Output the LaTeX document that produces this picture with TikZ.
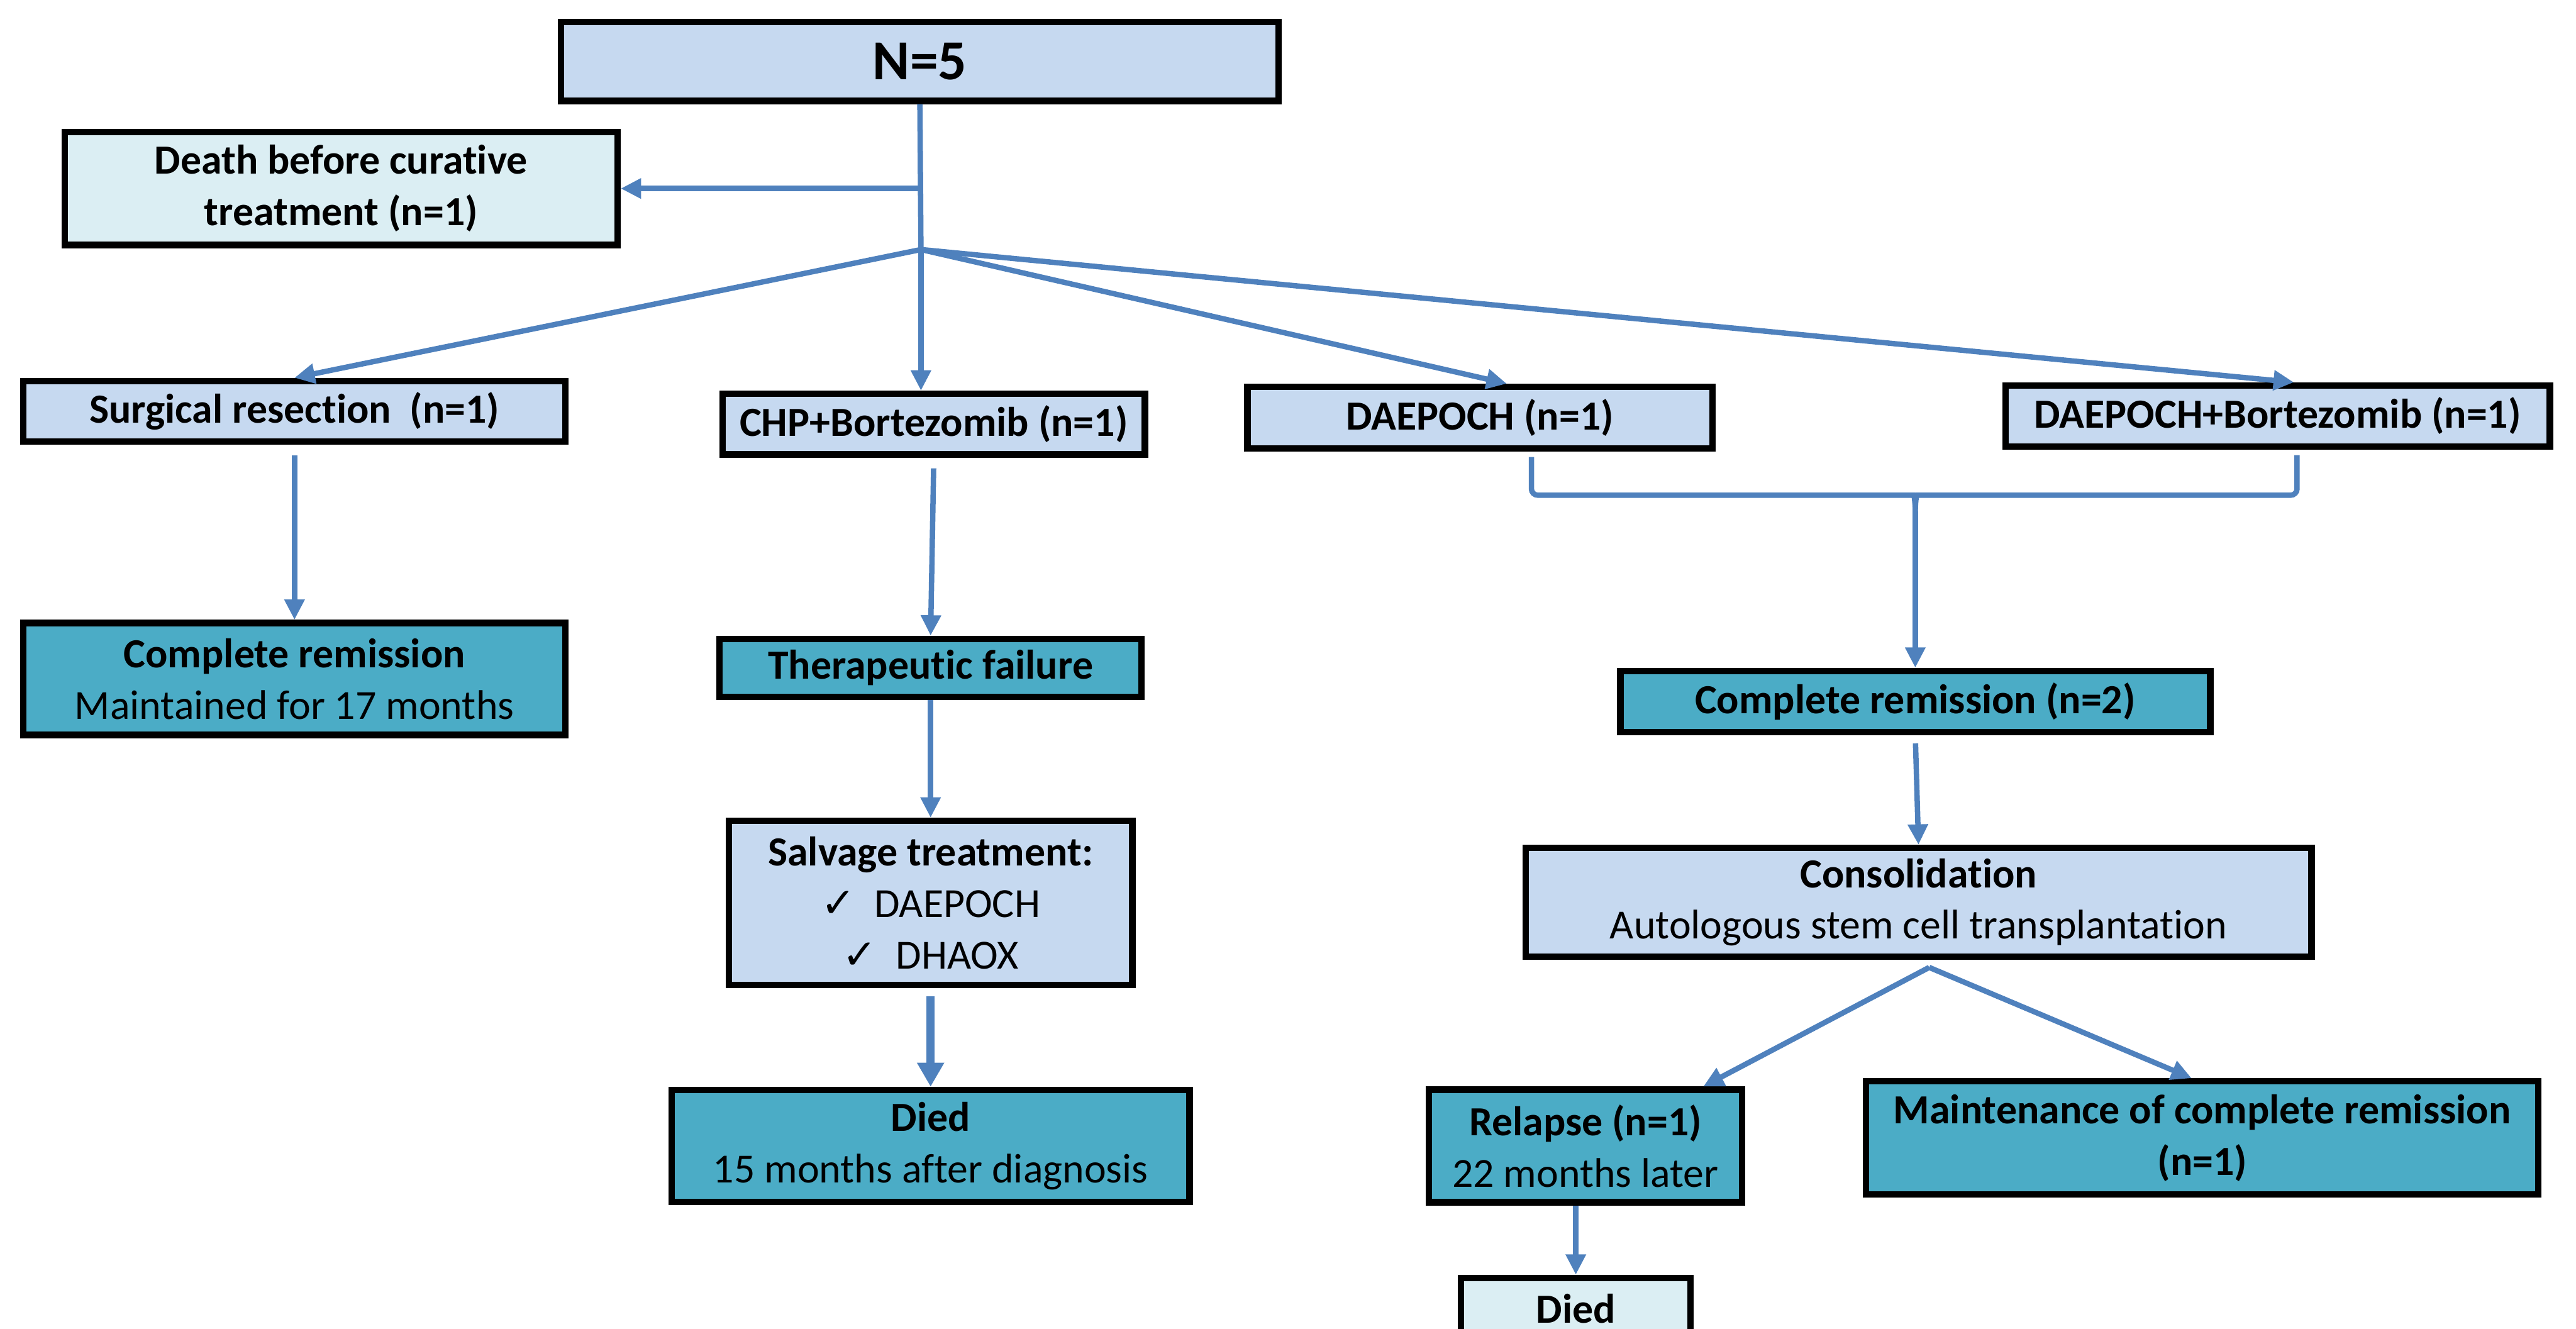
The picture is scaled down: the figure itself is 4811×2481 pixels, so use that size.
\documentclass[tikz,border=0pt]{standalone}
\usepackage{fontspec}
\setmainfont{Carlito}[Ligatures=NoCommon]
\newfontfamily\checkfont{DejaVu Sans}
\usepackage{tikz}
\usetikzlibrary{arrows.meta,calc,positioning}
\definecolor{cbox}{RGB}{198,217,240}
\definecolor{cpale}{RGB}{219,238,243}
\definecolor{cteal}{RGB}{75,172,198}
\definecolor{cline}{RGB}{79,129,189}
\tikzset{
  box/.style={rectangle,draw=black,line width=0.12cm,fill=cbox,inner sep=0pt,
    align=center,font=\fontsize{22}{27.3}\selectfont},
  bf/.style={font=\fontsize{22}{27.3}\selectfont\bfseries},
  palebox/.style={fill=cpale},
  tealbox/.style={fill=cteal},
  % connectors in the blue of the outline
  conn/.style={draw=cline,line width=0.1cm},
  arr/.style={conn,-{Triangle[length=0.38cm,width=0.36cm]}},
  bigarr/.style={conn,line width=0.15cm,-{Triangle[length=0.45cm,width=0.48cm]}}
}
\begin{document}
\begin{tikzpicture}[x=0.01cm,y=-0.01cm]
  \useasboundingbox (0,0) rectangle (4811,2481);
  \clip (0,0) rectangle (4811,2481);

  \node[box, minimum width=13.39cm, minimum height=1.47cm,
    font=\fontsize{30}{36}\selectfont\bfseries] (nfive) at (1718,115) {N=5};
  \node[box, bf, palebox, minimum width=10.32cm, minimum height=2.11cm] (death) at (637,352)
    {Death before curative\\treatment (n=1)};

  % first line treatments
  \node[box, bf, minimum width=10.12cm, minimum height=1.13cm] (surg) at (550,768) {Surgical resection\ \ (n=1)};
  \node[box, bf, minimum width=7.88cm, minimum height=1.13cm] (chp) at (1744,792) {CHP+Bortezomib (n=1)};
  \node[box, bf, minimum width=8.68cm, minimum height=1.15cm] (daep) at (2764,780) {DAEPOCH (n=1)};
  \node[box, bf, minimum width=10.16cm, minimum height=1.14cm] (daepb) at (4254,777) {DAEPOCH+Bortezomib (n=1)};

  \node[box, tealbox, minimum width=10.12cm, minimum height=2.09cm] (crl) at (550,1268)
    {\textbf{Complete remission}\\Maintained for 17 months};
  \node[box, bf, tealbox, minimum width=7.88cm, minimum height=1.08cm] (tf) at (1738,1247) {Therapeutic failure};
  \node[box, minimum width=7.53cm, minimum height=3.06cm] (salv) at (1738,1686)
    {\textbf{Salvage treatment:}\\{\checkfont ✓}\hspace{0.35cm}DAEPOCH\\{\checkfont ✓}\hspace{0.35cm}DHAOX};
  \node[box, tealbox, minimum width=9.67cm, minimum height=2.09cm] (diedl) at (1738,2140)
    {\textbf{Died}\\15 months after diagnosis};

  \node[box, bf, tealbox, minimum width=11.01cm, minimum height=1.14cm] (crr) at (3577,1310) {Complete remission (n=2)};
  \node[box, minimum width=14.67cm, minimum height=2.03cm] (cons) at (3583,1685)
    {\textbf{Consolidation}\\Autologous stem cell transplantation};
  \node[box, tealbox, minimum width=5.84cm, minimum height=2.10cm] (rel) at (2961,2140)
    {\textbf{Relapse (n=1)}\\22 months later};
  \node[box, bf, tealbox, minimum width=12.55cm, minimum height=2.11cm] (maint) at (4113,2125)
    {Maintenance of complete remission\\(n=1)};
  \node[box, bf, palebox, minimum width=4.29cm, minimum height=2.09cm] (diedr) at (2943,2491)
    {Died\\\phantom{x}};

  \coordinate (junc) at (1720,466);
  \draw[conn] (nfive.south) -- (junc);
  \draw[arr] (junc) -- (junc |- chp.north);
  \draw[arr] (nfive.south |- death.east) -- (death.east);
  \draw[arr] (junc) -- (surg.north);
  \draw[arr] (junc) -- ([xshift=0.5cm]daep.north);
  \draw[arr] (junc) -- ([xshift=0.3cm]daepb.north);

  \draw[arr,shorten <=0.2cm] (surg.south) -- (crl.north);
  \draw[arr,shorten <=0.2cm] (chp.south) -- (tf.north);
  \draw[arr] (tf.south) -- (salv.north);
  \draw[bigarr,shorten <=0.15cm] (salv.south) -- (diedl.north);

  % brace joining the two DAEPOCH arms
  \coordinate (bl) at ([xshift=0.96cm,yshift=-0.1cm]daep.south);
  \coordinate (br) at ([xshift=0.36cm,yshift=-0.1cm]daepb.south);
  \coordinate (bc) at ([yshift=3.22cm]crr.north);
  \draw[conn,rounded corners=0.12cm] (bl) |- ([xshift=-0.15cm]bc) to[out=0,in=90] ([yshift=-0.3cm]bc);
  \draw[conn,rounded corners=0.12cm] (br) |- ([xshift=0.15cm]bc) to[out=180,in=90] ([yshift=-0.3cm]bc);
  \draw[arr] ([yshift=-0.3cm]bc) -- (crr.north);

  \draw[arr,shorten <=0.15cm] (crr.south) -- (cons.north);
  \coordinate (apex) at ([xshift=0.2cm,yshift=-0.14cm]cons.south);
  \draw[arr] (apex) -- ([xshift=2.2cm]rel.north);
  \draw[arr] (apex) -- ([xshift=-0.2cm]maint.north);
  \draw[arr] (diedr.north |- rel.south) -- (diedr.north);
\end{tikzpicture}
\end{document}
